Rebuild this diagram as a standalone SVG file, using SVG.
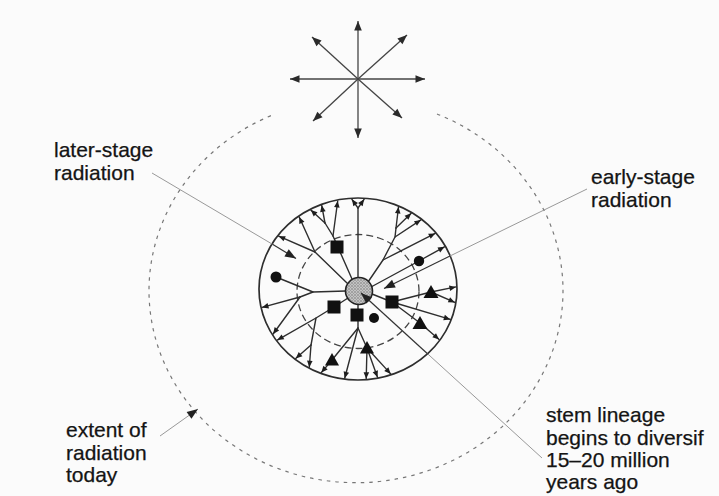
<svg xmlns="http://www.w3.org/2000/svg" width="719" height="496" viewBox="0 0 719 496">
<style>
.br{fill:none;stroke:#2e2e2e;stroke-width:1.4;stroke-linecap:round;stroke-linejoin:round}
.ar{marker-end:url(#ta)}
.st{fill:none;stroke:#444;stroke-width:1.3;marker-end:url(#sa)}
.ld{fill:none;stroke:#999;stroke-width:1}
.ldk{fill:none;stroke:#333;stroke-width:1.2}
.sym{fill:#111}
.lbl{font-family:"Liberation Sans",Arial,sans-serif;font-size:21px;fill:#141414;stroke:#141414;stroke-width:0.25}
</style>
<defs>
<marker id="ta" viewBox="-8 -4 9 8" refX="0" refY="0" markerWidth="9" markerHeight="8" markerUnits="userSpaceOnUse" orient="auto"><path d="M0,0 L-6.5,-2.8 L-6.5,2.8 Z" fill="#1e1e1e"/></marker>
<marker id="sa" viewBox="-11 -5 12 10" refX="0" refY="0" markerWidth="12" markerHeight="10" markerUnits="userSpaceOnUse" orient="auto"><path d="M0,0 L-9.5,-3.8 L-9.5,3.8 Z" fill="#2a2a2a"/></marker>
<marker id="la" viewBox="-13 -6 14 12" refX="0" refY="0" markerWidth="14" markerHeight="12" markerUnits="userSpaceOnUse" orient="auto"><path d="M0,0 L-11,-4.2 L-11,4.2 Z" fill="#222"/></marker>
<pattern id="stip" width="3" height="3" patternUnits="userSpaceOnUse"><rect width="3" height="3" fill="#c4c4c4"/><circle cx="1" cy="1" r="0.7" fill="#666"/><circle cx="2.5" cy="2.3" r="0.5" fill="#888"/></pattern>
</defs>
<rect width="719" height="496" fill="#fbfbfb"/>

<g id="star">
<path class="st" d="M358,79 L358,21"/>
<path class="st" d="M358,79 L358,138"/>
<path class="st" d="M358,79 L290,79"/>
<path class="st" d="M358,79 L425,79"/>
<path class="st" d="M358,79 L312,37"/>
<path class="st" d="M358,79 L407,35"/>
<path class="st" d="M358,79 L313,121"/>
<path class="st" d="M358,79 L402,118"/>
</g>

<g id="extent-today">
<path d="M437,114 A207 192 0 1 1 275,114" fill="none" stroke="#777" stroke-width="1.2" stroke-dasharray="3.5 5"/>
</g>

<g id="radiation-area">
<ellipse cx="358" cy="289" rx="99" ry="91" fill="none" stroke="#2e2e2e" stroke-width="1.7"/>
<ellipse cx="358" cy="291.5" rx="61" ry="57" fill="none" stroke="#444" stroke-width="1.3" stroke-dasharray="7 4"/>
</g>

<g id="tree">
<path class="br" d="M358,278 L358,208"/>
<path class="br" d="M347,283 L315,252"/>
<path class="br" d="M352,279 L333,236 L325,223"/>
<path class="br" d="M346,291 L313,292 L300,297"/>
<path class="br" d="M313,292 L276,277"/>
<path class="br" d="M348,298 L334,307 L316,318 L311,345"/>
<path class="br" d="M358,304 L358,328 L367,348"/>
<path class="br" d="M358,328 L332,360"/>
<path class="br" d="M372,294 L392,302 L431,292"/>
<path class="br" d="M392,302 L420,323"/>
<path class="br" d="M368,282 L383,260 L395,237 L396,228"/>
<path class="br" d="M371,287 L419,261"/>
<path class="br ar" d="M358,208 L351.9,199.3"/>
<path class="br ar" d="M358,208 L364.1,199.3"/>
<path class="br ar" d="M315,252 L278.7,236.2"/>
<path class="br ar" d="M315,252 L299.2,217"/>
<path class="br ar" d="M333,236 L337.7,201"/>
<path class="br ar" d="M325,223 L310.8,210"/>
<path class="br ar" d="M325,223 L321.7,205.3"/>
<path class="br ar" d="M300,297 L262,307.4"/>
<path class="br ar" d="M300,297 L273.1,334"/>
<path class="br ar" d="M316,318 L277.3,340.1"/>
<path class="br ar" d="M311,345 L309.3,367.2"/>
<path class="br ar" d="M311,345 L295.7,358.5"/>
<path class="br ar" d="M332,360 L321.3,372.6"/>
<path class="br ar" d="M358,328 L344.7,378.3"/>
<path class="br ar" d="M367,348 L366.2,378.8"/>
<path class="br ar" d="M367,348 L377.5,377.3"/>
<path class="br ar" d="M367,348 L390.7,373.9"/>
<path class="br ar" d="M431,292 L455.9,286.9"/>
<path class="br ar" d="M431,292 L454.9,302.4"/>
<path class="br ar" d="M392,302 L450.3,319.4"/>
<path class="br ar" d="M420,323 L439.1,339.5"/>
<path class="br ar" d="M396,228 L398.5,207"/>
<path class="br ar" d="M396,228 L411.2,213.3"/>
<path class="br ar" d="M395,237 L420.9,219.9"/>
<path class="br ar" d="M383,260 L435.2,233.4"/>
<path class="br ar" d="M419,261 L444.5,246.8"/>
</g>

<g id="lineage-symbols">
<rect class="sym" x="330.5" y="240.5" width="13" height="13"/>
<rect class="sym" x="327.5" y="300.5" width="13" height="13"/>
<rect class="sym" x="350.5" y="308.5" width="13" height="13"/>
<rect class="sym" x="385.5" y="295.5" width="13" height="13"/>
<circle class="sym" cx="276" cy="277" r="5.5"/>
<circle class="sym" cx="419" cy="261" r="5.2"/>
<circle class="sym" cx="374" cy="318" r="5"/>
<polygon class="sym" points="431,285 438.5,298 423.5,298"/>
<polygon class="sym" points="420,316 427.5,329 412.5,329"/>
<polygon class="sym" points="367,341 374,353.5 360,353.5"/>
<polygon class="sym" points="332,353 339,365.5 325,365.5"/>
</g>

<g id="stem-lineage">
<circle cx="359" cy="291" r="13.5" fill="url(#stip)" stroke="#222" stroke-width="1.6"/>
</g>

<g id="connectors">
<path class="ld" d="M152,173 L272.5,244.3"/>
<path class="ldk" d="M272.5,244.3 L296,258.5" marker-end="url(#la)"/>
<path class="ld" d="M587,189 L450,256"/>
<path class="ldk" d="M450,256 L384,288.5" marker-end="url(#la)"/>
<path class="ld" d="M542,458 L427.5,353.7"/>
<path class="ldk" d="M427.5,353.7 L361,293" marker-end="url(#la)"/>
<path class="ld" d="M160,436 L198,409" marker-end="url(#la)"/>
</g>

<g id="label-later">
<text class="lbl" x="54" y="157">later-stage</text>
<text class="lbl" x="54" y="180">radiation</text>
</g>
<g id="label-early">
<text class="lbl" x="591" y="184">early-stage</text>
<text class="lbl" x="591" y="207">radiation</text>
</g>
<g id="label-extent">
<text class="lbl" x="66" y="437">extent of</text>
<text class="lbl" x="66" y="459.5">radiation</text>
<text class="lbl" x="66" y="482">today</text>
</g>
<g id="label-stem">
<text class="lbl" x="546" y="422">stem lineage</text>
<text class="lbl" x="546" y="444.5">begins to diversif</text>
<text class="lbl" x="546" y="466.5">15–20 million</text>
<text class="lbl" x="546" y="489">years ago</text>
</g>
</svg>
